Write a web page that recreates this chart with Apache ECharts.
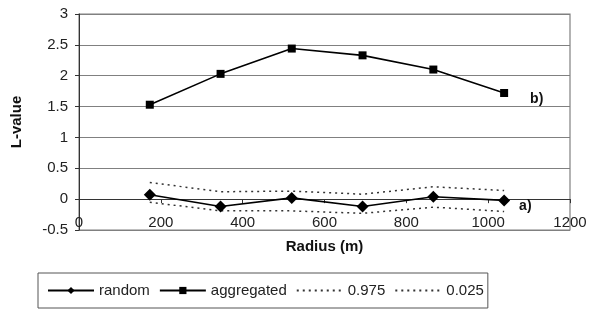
<!DOCTYPE html>
<html><head><meta charset="utf-8">
<script src="https://cdn.jsdelivr.net/npm/echarts@6/dist/echarts.min.js"></script>
<style>html,body{margin:0;padding:0;background:#fff}#c{width:607px;height:311px}</style>
</head><body><div id="c"></div>
<script>
var radius = [173, 346, 520, 693, 866, 1039];
var randomVals = [0.07, -0.12, 0.02, -0.12, 0.04, -0.02];
var aggregatedVals = [1.53, 2.03, 2.44, 2.33, 2.10, 1.72];
var upper975 = [0.27, 0.12, 0.13, 0.08, 0.20, 0.14];
var lower025 = [-0.05, -0.19, -0.19, -0.23, -0.13, -0.20];
var yTicks = {min: -0.5, max: 3, step: 0.5};
var xTicks = {min: 0, max: 1200, step: 200};

function pairs(xs, ys){ return xs.map(function(x,i){ return [x, ys[i]]; }); }
var font = 'Liberation Sans, Arial, sans-serif';
var chart = echarts.init(document.getElementById('c'));
chart.setOption({
  animation: false,
  grid: {left: 79, right: 37, top: 14, bottom: 81, show: true, borderColor: '#808080', borderWidth: 1.2},
  xAxis: [{
    type: 'value', min: xTicks.min, max: xTicks.max, interval: xTicks.step,
    axisLine: {onZero: true, lineStyle: {color: '#333', width: 1}},
    axisTick: {show: true, length: 4, lineStyle: {color: '#333'}},
    axisLabel: {show: false}, splitLine: {show: false},
    name: 'Radius (m)', nameLocation: 'middle', nameGap: 9,
    nameTextStyle: {fontFamily: font, fontWeight: 'bold', fontSize: 15, color: '#111'}
  },{
    type: 'value', min: xTicks.min, max: xTicks.max, interval: xTicks.step, position: 'bottom',
    axisLine: {show: false, onZero: false}, axisTick: {show: false}, splitLine: {show: false},
    axisLabel: {inside: true, margin: 0, fontFamily: font, fontSize: 15, color: '#222',
      formatter: function(v){ return String(v); }}
  }],
  yAxis: {
    type: 'value', min: yTicks.min, max: yTicks.max, interval: yTicks.step,
    axisLine: {show: true, lineStyle: {color: '#333'}},
    axisTick: {show: true, length: 4, lineStyle: {color: '#333'}},
    axisLabel: {fontFamily: font, fontSize: 15, color: '#222', margin: 11},
    splitLine: {lineStyle: {color: '#808080', width: 1.2}},
    name: 'L-value', nameLocation: 'middle', nameGap: 55,
    nameTextStyle: {fontFamily: font, fontWeight: 'bold', fontSize: 15, color: '#111'}
  },
  legend: {
    left: 38, top: 273, width: 451, height: 37,
    padding: [10, 4, 10, 9], borderColor: '#555', borderWidth: 1,
    itemWidth: 46, itemHeight: 9, itemGap: 9,
    textStyle: {fontFamily: font, fontSize: 15, color: '#222'},
    data: ['random', 'aggregated', {name: '0.975', itemStyle: {opacity: 0}}, {name: '0.025', itemStyle: {opacity: 0}}]
  },
  series: [
    {name: 'random', type: 'line', data: pairs(radius, randomVals), symbol: 'diamond', symbolSize: 12,
     itemStyle: {color: '#000'}, lineStyle: {color: '#000', width: 1.6},
     endLabel: {show: true, formatter: 'a)', offset: [7, 6], fontFamily: font, fontWeight: 'bold', fontSize: 14, color: '#111'}},
    {name: 'aggregated', type: 'line', data: pairs(radius, aggregatedVals), symbol: 'rect', symbolSize: 8,
     itemStyle: {color: '#000'}, lineStyle: {color: '#000', width: 1.6},
     endLabel: {show: true, formatter: 'b)', offset: [18, 6], fontFamily: font, fontWeight: 'bold', fontSize: 14, color: '#111'}},
    {name: '0.975', type: 'line', data: pairs(radius, upper975), symbol: 'circle', symbolSize: 0, showSymbol: false,
     itemStyle: {color: '#333'}, lineStyle: {color: '#333', width: 1.5, type: [2, 4]}},
    {name: '0.025', type: 'line', data: pairs(radius, lower025), symbol: 'circle', symbolSize: 0, showSymbol: false,
     itemStyle: {color: '#333'}, lineStyle: {color: '#333', width: 1.5, type: [2, 4]}}
  ]
});
</script></body></html>
